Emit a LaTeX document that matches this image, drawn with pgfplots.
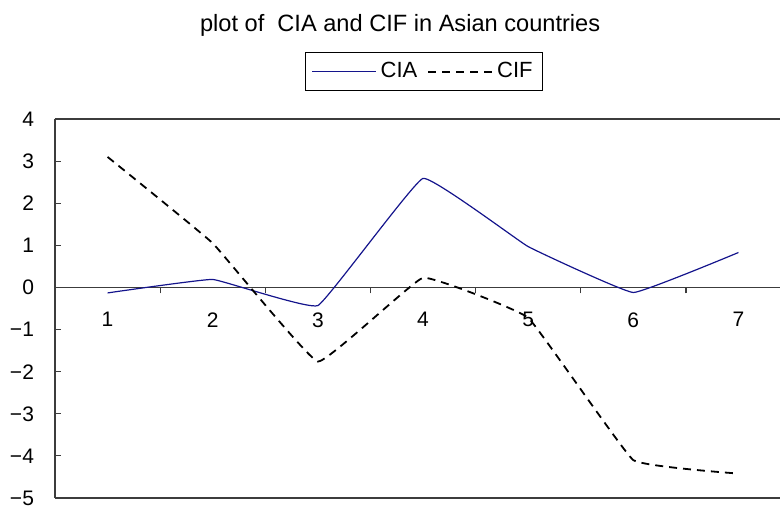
\documentclass[border=0pt]{standalone}
\usepackage{pgfplots}
\pgfplotsset{compat=1.18}
\usepackage{fontspec}
\setmainfont{Liberation Sans}
\definecolor{ciablue}{RGB}{20,20,140}
\definecolor{axgray}{RGB}{60,60,60}
\begin{document}
\begin{tikzpicture}
\useasboundingbox (0,0) rectangle (390pt,256pt);
\begin{axis}[
  at={(27.5pt,7pt)}, anchor=south west,
  scale only axis, width=362.5pt, height=189.5pt,
  xmin=0.5, xmax=7.395, ymin=-5, ymax=4,
  clip=false,
  axis x line=middle, axis y line=left,
  axis line style={-, axgray, line width=0.7pt},
  tick style={axgray, line width=0.6pt},
  ytick={-5,...,4},
  yticklabels={−5,−4,−3,−2,−1,0,1,2,3,4},
  ytick align=inside, major tick length=3pt,
  yticklabel style={anchor=east, xshift=-7pt},
  xtick={1.5,2.5,3.5,4.5,5.5,6.5}, xticklabels={},
  xtick align=outside,
  extra x ticks={1,2,3,4,5,6,7},
  extra x tick labels={1,2,3,4,5,6,7},
  extra x tick style={major tick length=0pt, xticklabel style={yshift=-9pt}},
  every tick label/.append style={font=\fontsize{10.5}{12}\selectfont, text=black},
  legend columns=2,
  legend style={at={(0.509,1.125)}, anchor=center, draw=black, line width=0.6pt,
    font=\fontsize{11}{13}\selectfont, inner sep=3pt,
    /tikz/every even column/.append style={column sep=3pt}},
  legend image code/.code={\draw[#1] (0pt,0pt) -- (32pt,0pt);},
]
\addplot[ciablue, line width=0.6pt, smooth, tension=0.15] coordinates {
 (1,-0.13) (2,0.19) (3,-0.43) (4,2.59) (5,0.97) (6,-0.12) (7,0.83)};
\addlegendentry{CIA}
\addplot[black, line width=0.9pt, dash pattern=on 4pt off 3pt, smooth, tension=0.15] coordinates {
 (1,3.1) (2,1.05) (3,-1.76) (4,0.23) (5,-0.72) (6,-4.1) (7,-4.42)};
\addlegendentry{CIF}
\draw[axgray, line width=0.7pt] (rel axis cs:0,1) -- (rel axis cs:1,1);
\draw[axgray, line width=0.7pt] (rel axis cs:0,0) -- (rel axis cs:1,0);
\node[font=\fontsize{11.8}{14}\selectfont] at (rel axis cs:0.476,1.248) {plot of \ CIA and CIF in Asian countries};
\end{axis}
\end{tikzpicture}
\end{document}
